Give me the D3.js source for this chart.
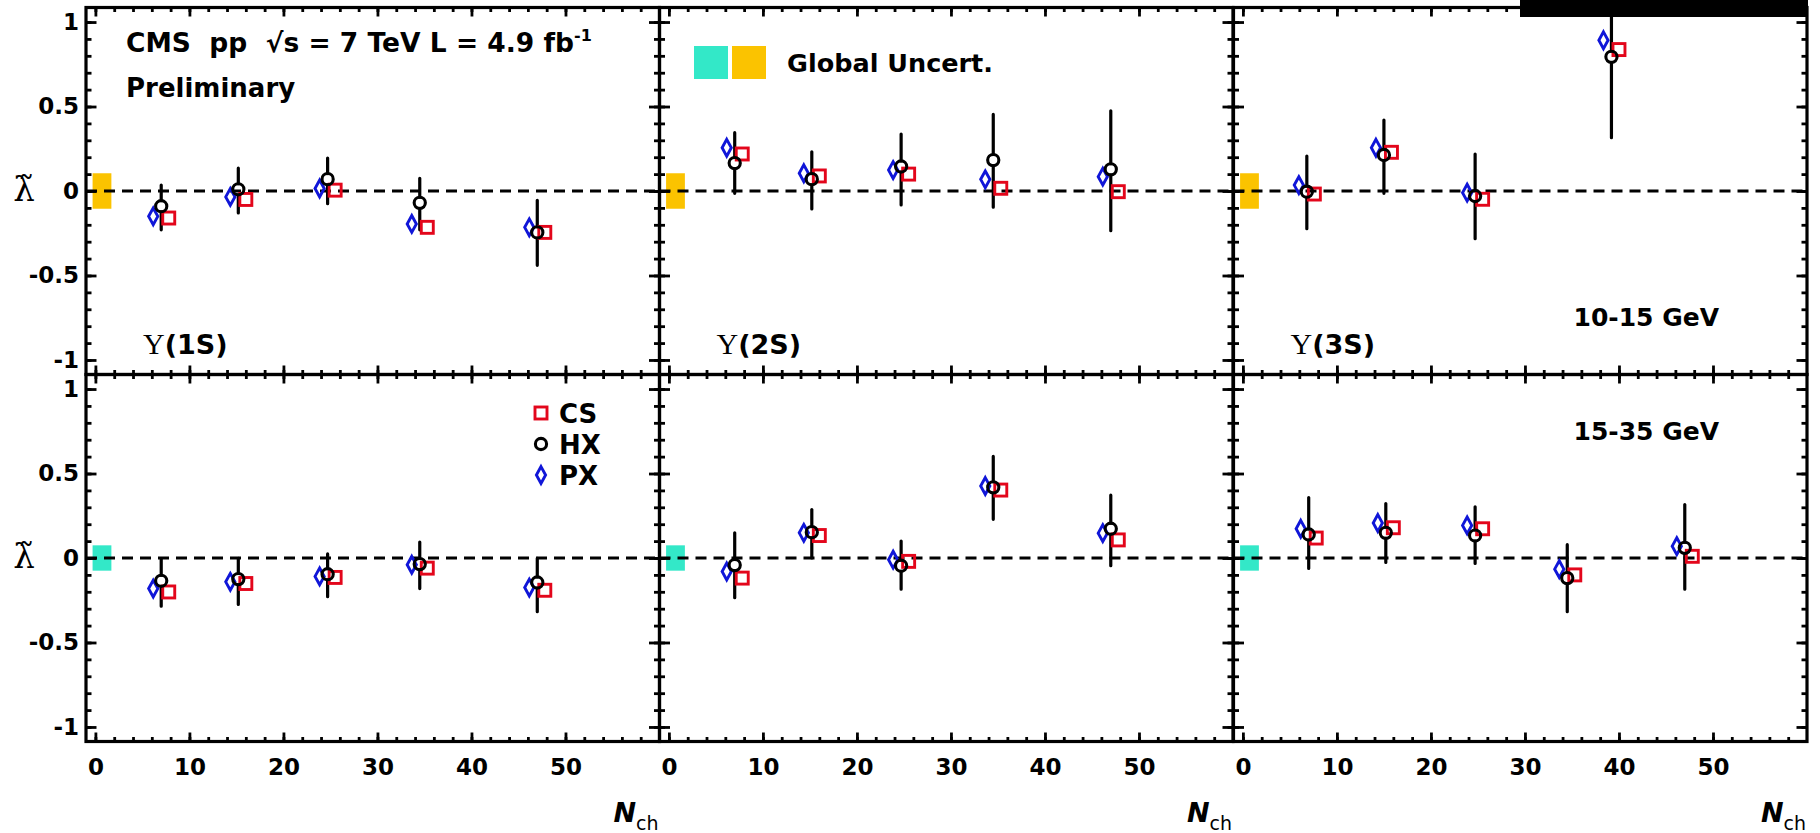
<!DOCTYPE html>
<html>
<head>
<meta charset="utf-8">
<script src="https://cdn.jsdelivr.net/npm/d3@7"></script>
<style>
body { margin: 0; background: #fff; }
text { font-family: "DejaVu Sans", sans-serif; font-weight: bold; }
</style>
</head>
<body>
<div id="chart"></div>
<script>
// N_ch bin centres
var nch = [7, 15.2, 24.7, 34.5, 47];
var nch3S10 = [6.8, 15, 24.7, 39.2];

var states = ["1S", "2S", "3S"];
var ptBins = ["10-15 GeV", "15-35 GeV"];
var frameNames = ["CS", "HX", "PX"];
var xTickVals = [0, 10, 20, 30, 40, 50];
var yTickVals = [-1, -0.5, 0, 0.5, 1];
var yTickText = ["-1", "-0.5", "0", "0.5", "1"];
var globalUnc = [0.105, 0.075]; // per pT bin

// lambda-tilde, pT 10-15 GeV
var cs1S_10 = [-0.16, -0.05, 0.005, -0.215, -0.245];
var hx1S_10 = [-0.09, 0.01, 0.07, -0.07, -0.245];
var hxUp1S_10 = [0.035, 0.135, 0.195, 0.075, -0.055];
var hxDn1S_10 = [-0.23, -0.13, -0.075, -0.23, -0.44];
var px1S_10 = [-0.15, -0.035, 0.015, -0.195, -0.215];

var cs2S_10 = [0.219, 0.089, 0.1, 0.016, -0.004];
var hx2S_10 = [0.165, 0.07, 0.145, 0.183, 0.128];
var hxUp2S_10 = [0.345, 0.232, 0.337, 0.453, 0.475];
var hxDn2S_10 = [-0.014, -0.106, -0.083, -0.096, -0.235];
var px2S_10 = [0.256, 0.105, 0.124, 0.069, 0.085];

var cs3S_10 = [-0.018, 0.229, -0.049, 0.837];
var hx3S_10 = [-0.004, 0.213, -0.03, 0.794];
var hxUp3S_10 = [0.207, 0.42, 0.219, 1.3];
var hxDn3S_10 = [-0.223, -0.014, -0.282, 0.315];
var px3S_10 = [0.035, 0.256, -0.01, 0.892];

// lambda-tilde, pT 15-35 GeV
var cs1S_15 = [-0.201, -0.151, -0.115, -0.06, -0.191];
var hx1S_15 = [-0.135, -0.125, -0.096, -0.036, -0.145];
var hxUp1S_15 = [-0.006, -0.002, 0.024, 0.094, -0.002];
var hxDn1S_15 = [-0.285, -0.275, -0.229, -0.181, -0.318];
var px1S_15 = [-0.181, -0.141, -0.109, -0.04, -0.175];

var cs2S_15 = [-0.119, 0.133, -0.02, 0.402, 0.107];
var hx2S_15 = [-0.042, 0.153, -0.046, 0.418, 0.173];
var hxUp2S_15 = [0.149, 0.287, 0.1, 0.601, 0.372];
var hxDn2S_15 = [-0.235, 0, -0.185, 0.229, -0.046];
var px2S_15 = [-0.08, 0.149, -0.01, 0.426, 0.147];

var cs3S_15 = [0.118, 0.179, 0.173, -0.1, 0.01];
var hx3S_15 = [0.139, 0.149, 0.133, -0.119, 0.06];
var hxUp3S_15 = [0.358, 0.322, 0.303, 0.079, 0.316];
var hxDn3S_15 = [-0.062, -0.026, -0.032, -0.318, -0.185];
var px3S_15 = [0.173, 0.207, 0.193, -0.066, 0.07];

var panels = [
	{row: 0, col: 0, n: nch, cs: cs1S_10, hx: hx1S_10, up: hxUp1S_10, dn: hxDn1S_10, px: px1S_10},
	{row: 0, col: 1, n: nch, cs: cs2S_10, hx: hx2S_10, up: hxUp2S_10, dn: hxDn2S_10, px: px2S_10},
	{row: 0, col: 2, n: nch3S10, cs: cs3S_10, hx: hx3S_10, up: hxUp3S_10, dn: hxDn3S_10, px: px3S_10},
	{row: 1, col: 0, n: nch, cs: cs1S_15, hx: hx1S_15, up: hxUp1S_15, dn: hxDn1S_15, px: px1S_15},
	{row: 1, col: 1, n: nch, cs: cs2S_15, hx: hx2S_15, up: hxUp2S_15, dn: hxDn2S_15, px: px2S_15},
	{row: 1, col: 2, n: nch, cs: cs3S_15, hx: hx3S_15, up: hxUp3S_15, dn: hxDn3S_15, px: px3S_15}
];

var orange = "#fbc300", teal = "#33e8c8";
var red = "#e3061b", blue = "#1016d8";
var boxColor = [orange, teal];

var colX = [86, 659.5, 1233.5], pw = 573.5;
var rowY = [7.5, 374.5], ph = 367;

var svg = d3.select("#chart").append("svg")
	.attr("width", 1820)
	.attr("height", 833);

var x = d3.scaleLinear().domain([-1, 60]).range([0, pw]);
var y = d3.scaleLinear().domain([-1.086, 1.086]).range([ph, 0]);

var xMinor = d3.range(0, 60, 2);
var yMinor = d3.range(-10, 11).map(function(d) { return d / 10; });

function styleAxis(g, labels) {
	g.select(".domain").remove();
	g.selectAll("line").attr("stroke", "#000").attr("stroke-width", 2.8);
	g.attr("font-family", "DejaVu Sans").attr("font-size", 23).attr("font-weight", "bold");
	if (!labels) g.selectAll("text").remove();
}

// marker sizes
var r = 5.6, sq = 12;
var diamond = "M0,-8.4L4.6,0L0,8.4L-4.6,0Z";

panels.forEach(function(p, pi) {
	var g = svg.append("g").attr("transform", "translate(" + colX[p.col] + "," + rowY[p.row] + ")");

	g.append("clipPath").attr("id", "clip" + pi)
		.append("rect").attr("width", pw).attr("height", ph);

	// global uncertainty box
	var u = globalUnc[p.row];
	g.append("rect")
		.attr("x", x(-0.3)).attr("width", x(1.7) - x(-0.3))
		.attr("y", y(u)).attr("height", y(-u) - y(u))
		.attr("fill", boxColor[p.row]);

	g.append("line")
		.attr("x1", 0).attr("x2", pw)
		.attr("y1", y(0)).attr("y2", y(0))
		.attr("stroke", "#000").attr("stroke-width", 3)
		.attr("stroke-dasharray", "11,7");

	var pts = p.n.map(function(d, i) {
		return {n: d, cs: p.cs[i], hx: p.hx[i], up: p.up[i], dn: p.dn[i], px: p.px[i]};
	});
	var data = g.append("g").attr("clip-path", "url(#clip" + pi + ")");

	// HX error bars, broken at the marker
	data.selectAll("path.err").data(pts).enter().append("path")
		.attr("class", "err")
		.attr("d", function(d) {
			var cx = x(d.n), cy = y(d.hx), yu = y(d.up), yd = y(d.dn);
			return "M" + cx + "," + yu + "V" + Math.max(yu, cy - r) +
				"M" + cx + "," + Math.min(yd, cy + r) + "V" + yd;
		})
		.attr("stroke", "#000").attr("stroke-width", 3.2)
		.attr("stroke-linecap", "round").attr("fill", "none");

	data.selectAll("rect.cs").data(pts).enter().append("rect")
		.attr("class", "cs")
		.attr("x", function(d) { return x(d.n + 0.8) - sq / 2; })
		.attr("y", function(d) { return y(d.cs) - sq / 2; })
		.attr("width", sq).attr("height", sq)
		.attr("fill", "none").attr("stroke", red).attr("stroke-width", 2.9);

	data.selectAll("path.px").data(pts).enter().append("path")
		.attr("class", "px")
		.attr("d", diamond)
		.attr("transform", function(d) { return "translate(" + x(d.n - 0.85) + "," + y(d.px) + ")"; })
		.attr("fill", "none").attr("stroke", blue).attr("stroke-width", 2.9);

	data.selectAll("circle.hx").data(pts).enter().append("circle")
		.attr("class", "hx")
		.attr("cx", function(d) { return x(d.n); })
		.attr("cy", function(d) { return y(d.hx); })
		.attr("r", r)
		.attr("fill", "none").attr("stroke", "#000").attr("stroke-width", 3.1);

	// inward ticks on all four sides
	var bottomLabels = p.row === 1, leftLabels = p.col === 0;
	g.append("g").attr("transform", "translate(0," + ph + ")")
		.call(d3.axisBottom(x).tickValues(xMinor).tickSize(-4.5).tickSizeOuter(0).tickFormat(""))
		.call(styleAxis, false);
	g.append("g").attr("transform", "translate(0," + ph + ")")
		.call(d3.axisBottom(x).tickValues(xTickVals).tickSize(-9).tickSizeOuter(0).tickPadding(17))
		.call(styleAxis, bottomLabels);
	g.append("g")
		.call(d3.axisTop(x).tickValues(xMinor).tickSize(-4.5).tickSizeOuter(0).tickFormat(""))
		.call(styleAxis, false);
	g.append("g")
		.call(d3.axisTop(x).tickValues(xTickVals).tickSize(-9).tickSizeOuter(0).tickFormat(""))
		.call(styleAxis, false);
	g.append("g")
		.call(d3.axisLeft(y).tickValues(yMinor).tickSize(-5.5).tickSizeOuter(0).tickFormat(""))
		.call(styleAxis, false);
	g.append("g")
		.call(d3.axisLeft(y).tickValues(yTickVals).tickSize(-10.5).tickSizeOuter(0).tickPadding(7)
			.tickFormat(function(d, i) { return yTickText[i]; }))
		.call(styleAxis, leftLabels);
	g.append("g").attr("transform", "translate(" + pw + ",0)")
		.call(d3.axisRight(y).tickValues(yMinor).tickSize(-5.5).tickSizeOuter(0).tickFormat(""))
		.call(styleAxis, false);
	g.append("g").attr("transform", "translate(" + pw + ",0)")
		.call(d3.axisRight(y).tickValues(yTickVals).tickSize(-10.5).tickSizeOuter(0).tickFormat(""))
		.call(styleAxis, false);

	g.append("rect")
		.attr("width", pw).attr("height", ph)
		.attr("fill", "none").attr("stroke", "#000").attr("stroke-width", 3.2);

	if (p.row === 0) {
		var ups = g.append("text").attr("x", 57).attr("y", 346);
		ups.append("tspan").text("\u03A5")
			.style("font-family", "Liberation Serif").style("font-weight", "normal").attr("font-size", 30);
		ups.append("tspan").text("(" + states[p.col] + ")").attr("font-size", 27);
	}
	if (p.row === 1) {
		var nt = g.append("text").attr("x", pw - 1).attr("y", ph + 80).attr("text-anchor", "end");
		nt.append("tspan").text("N").attr("font-size", 27).style("font-style", "italic");
		nt.append("tspan").text("ch").attr("font-size", 19).attr("dy", 8).style("font-weight", "normal");
	}
	if (p.col === 0) {
		// lambda with combining tilde
		g.append("text").text("\u03BB\u0303")
			.attr("x", -62).attr("y", y(0) + 10).attr("text-anchor", "middle")
			.style("font-family", "DejaVu Serif").style("font-weight", "normal")
			.attr("font-size", 34);
	}
	if (p.col === 2) {
		g.append("text").text(ptBins[p.row])
			.attr("x", 340).attr("y", p.row === 0 ? 318 : 65)
			.attr("font-size", 25);
	}
});

// header
var cms = svg.append("text").attr("x", 126).attr("y", 51.5)
	.attr("font-size", 26.5).style("white-space", "pre");
cms.append("tspan").text("CMS  pp  \u221As = 7 TeV L = 4.9 fb");
cms.append("tspan").text("-1").attr("font-size", 16).attr("dy", -11);
svg.append("text").attr("x", 126).attr("y", 96.5).attr("font-size", 26).text("Preliminary");

// global uncertainty key
svg.append("rect").attr("x", 694).attr("y", 46).attr("width", 34).attr("height", 33).attr("fill", teal);
svg.append("rect").attr("x", 732).attr("y", 46).attr("width", 34).attr("height", 33).attr("fill", orange);
svg.append("text").attr("x", 787).attr("y", 72).attr("font-size", 25.5).text("Global Uncert.");

// frame legend
var lg = svg.append("g").attr("transform", "translate(541,413)");
frameNames.forEach(function(f, i) {
	var row = lg.append("g").attr("transform", "translate(0," + (i * 31) + ")");
	if (f === "CS") {
		row.append("rect").attr("x", -sq / 2).attr("y", -sq / 2).attr("width", sq).attr("height", sq)
			.attr("fill", "none").attr("stroke", red).attr("stroke-width", 2.9);
	} else if (f === "HX") {
		row.append("circle").attr("r", r).attr("fill", "none").attr("stroke", "#000").attr("stroke-width", 3.1);
	} else {
		row.append("path").attr("d", diamond).attr("fill", "none").attr("stroke", blue).attr("stroke-width", 2.9);
	}
	row.append("text").attr("x", 18).attr("y", 9.5).attr("font-size", 26).text(f);
});

// black bar across the top right of the original
svg.append("rect").attr("x", 1520).attr("y", 0).attr("width", 288).attr("height", 17).attr("fill", "#000");
</script>
</body>
</html>
